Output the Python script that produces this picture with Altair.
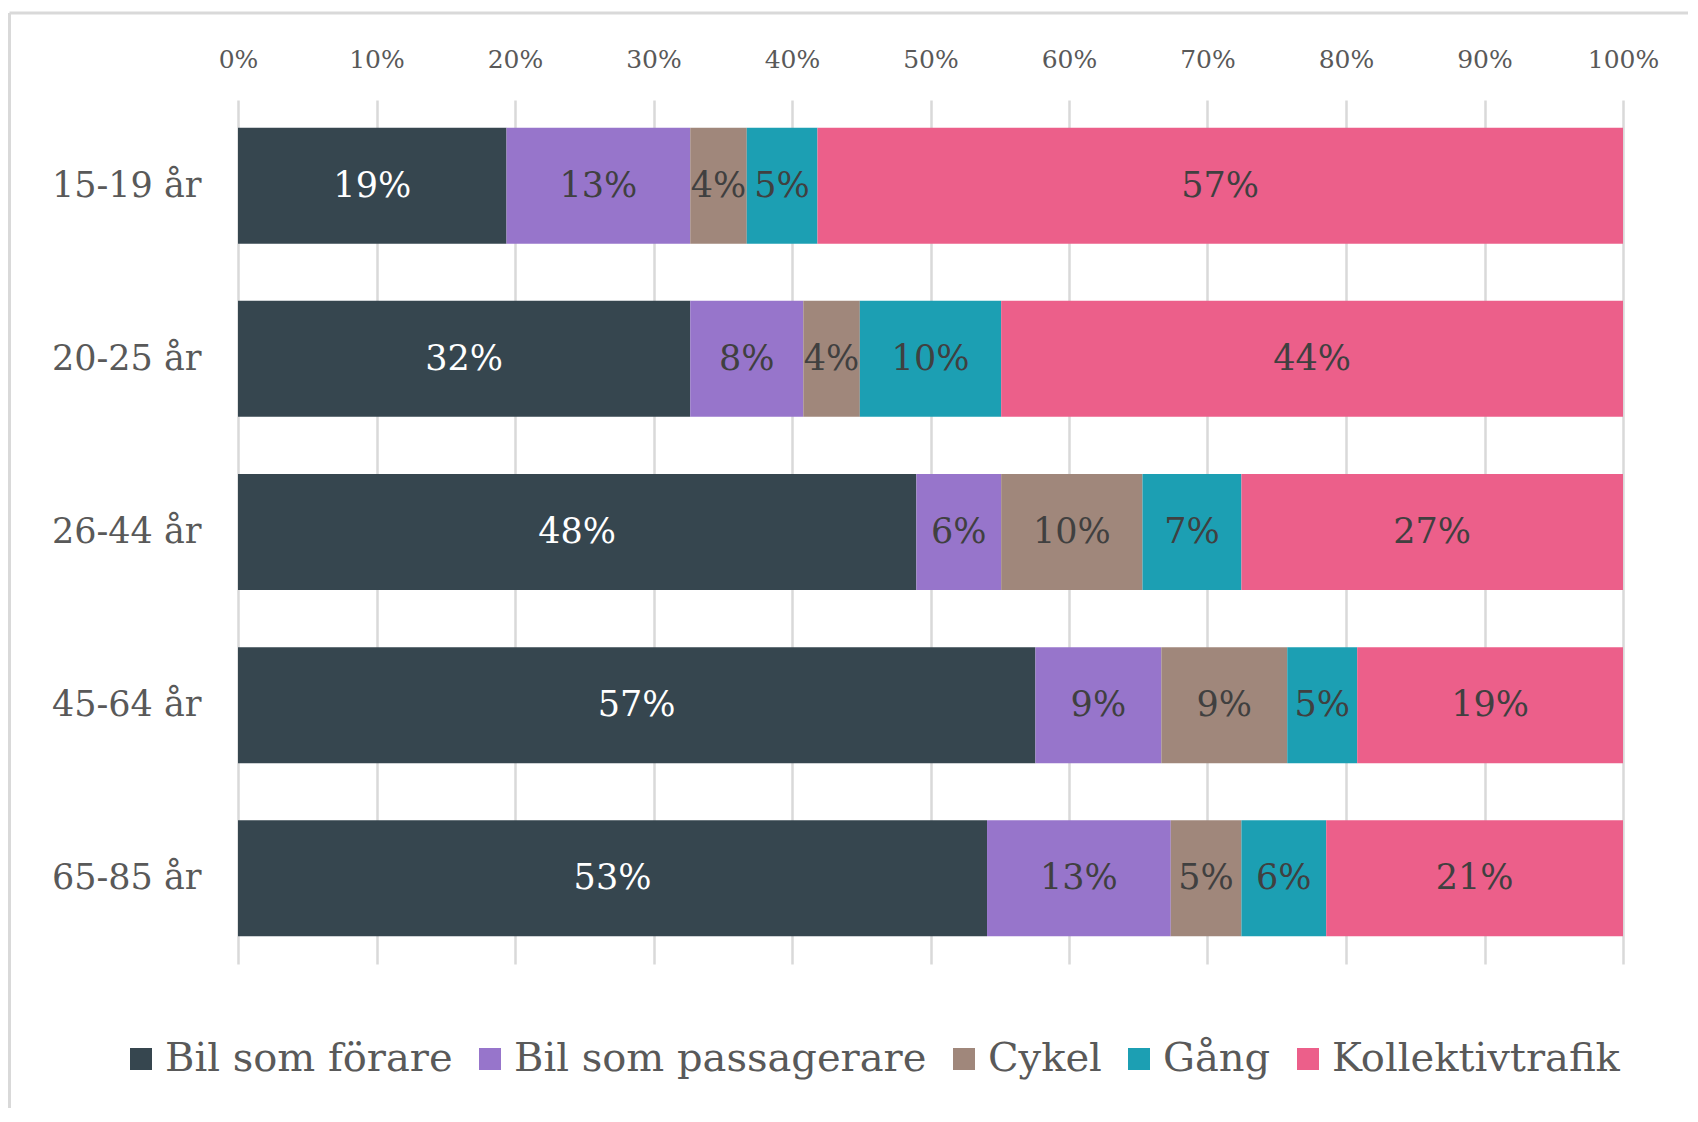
import altair as alt
import pandas as pd

ages = ["15-19 år", "20-25 år", "26-44 år", "45-64 år", "65-85 år"]
modes = ["Bil som förare", "Bil som passagerare", "Cykel", "Gång", "Kollektivtrafik"]
colors = ["#36464F", "#9775CB", "#A0877B", "#1C9FB3", "#EC5F8A"]

bil_forare = [19, 32, 48, 57, 53]
bil_passagerare = [13, 8, 6, 9, 13]
cykel = [4, 4, 10, 9, 5]
gang = [5, 10, 7, 5, 6]
kollektivtrafik = [57, 44, 27, 19, 21]

x_ticks = [0, 0.1, 0.2, 0.3, 0.4, 0.5, 0.6, 0.7, 0.8, 0.9, 1.0]

series = [bil_forare, bil_passagerare, cykel, gang, kollektivtrafik]
rows = []
for i, age in enumerate(ages):
    for j, mode in enumerate(modes):
        rows.append({"age": age, "mode": mode, "order": j, "value": series[j][i]})
df = pd.DataFrame(rows)

FONT = "DejaVu Serif"
GREY = "#595959"

base = (
    alt.Chart(df)
    .transform_joinaggregate(total="sum(value)", groupby=["age"])
    .transform_window(
        cum="sum(value)",
        groupby=["age"],
        sort=[alt.SortField("order", order="ascending")],
        frame=[None, 0],
    )
    .transform_calculate(
        start="(datum.cum - datum.value) / datum.total",
        end="datum.cum / datum.total",
        mid="(datum.cum - datum.value / 2) / datum.total",
        label="datum.value + '%'",
    )
)

y_enc = alt.Y(
    "age:N",
    sort=ages,
    scale=alt.Scale(paddingInner=0.33, paddingOuter=0.16),
    axis=alt.Axis(
        title=None,
        labelFont=FONT,
        labelFontSize=35,
        labelColor=GREY,
        labelPadding=37,
        ticks=False,
        domain=False,
        grid=False,
    ),
)

bars = base.mark_bar().encode(
    x=alt.X(
        "start:Q",
        scale=alt.Scale(domain=[0, 1], nice=False),
        axis=alt.Axis(
            orient="top",
            format=".0%",
            values=x_ticks,
            title=None,
            labelFont=FONT,
            labelFontSize=25,
            labelColor=GREY,
            labelPadding=28,
            labelFlush=False,
            ticks=False,
            domain=False,
            grid=True,
            gridColor="#D9D9D9",
            gridWidth=2.5,
        ),
    ),
    x2="end:Q",
    y=y_enc,
    color=alt.Color(
        "mode:N",
        scale=alt.Scale(domain=modes, range=colors),
        sort=modes,
        legend=alt.Legend(
            title=None,
            orient="none",
            legendX=-117,
            legendY=939,
            direction="horizontal",
            columns=5,
            symbolType="square",
            symbolSize=484,
            symbolStrokeWidth=0,
            symbolOpacity=1,
            labelFont=FONT,
            labelFontSize=40,
            labelColor=GREY,
            labelOffset=4,
            columnPadding=17,
            labelLimit=600,
        ),
    ),
)

labels = base.mark_text(font=FONT, fontSize=35, baseline="middle", align="center").encode(
    x=alt.X("mid:Q"),
    y=y_enc,
    text="label:N",
    color=alt.condition(
        alt.datum.mode == "Bil som förare", alt.value("#FFFFFF"), alt.value("#404040")
    ),
)

frame_data = alt.Data(values=[{"k": 1}])
frame_top = alt.Chart(frame_data).mark_rule(color="#D9D9D9", strokeWidth=3).encode(
    x=alt.value(-228.5), x2=alt.value(1450), y=alt.value(-87)
)
frame_left = alt.Chart(frame_data).mark_rule(color="#D9D9D9", strokeWidth=3).encode(
    x=alt.value(-228.5), y=alt.value(-87), y2=alt.value(1008)
)

chart = (
    alt.layer(bars, labels, frame_top, frame_left)
    .properties(
        width=1385,
        height=864,
        padding={"left": 0, "top": 3, "right": 0, "bottom": 0},
        background="#FFFFFF",
    )
    .configure_view(stroke=None)
)

chart.save("out.html", embed_options={"renderer": "svg", "actions": False})
